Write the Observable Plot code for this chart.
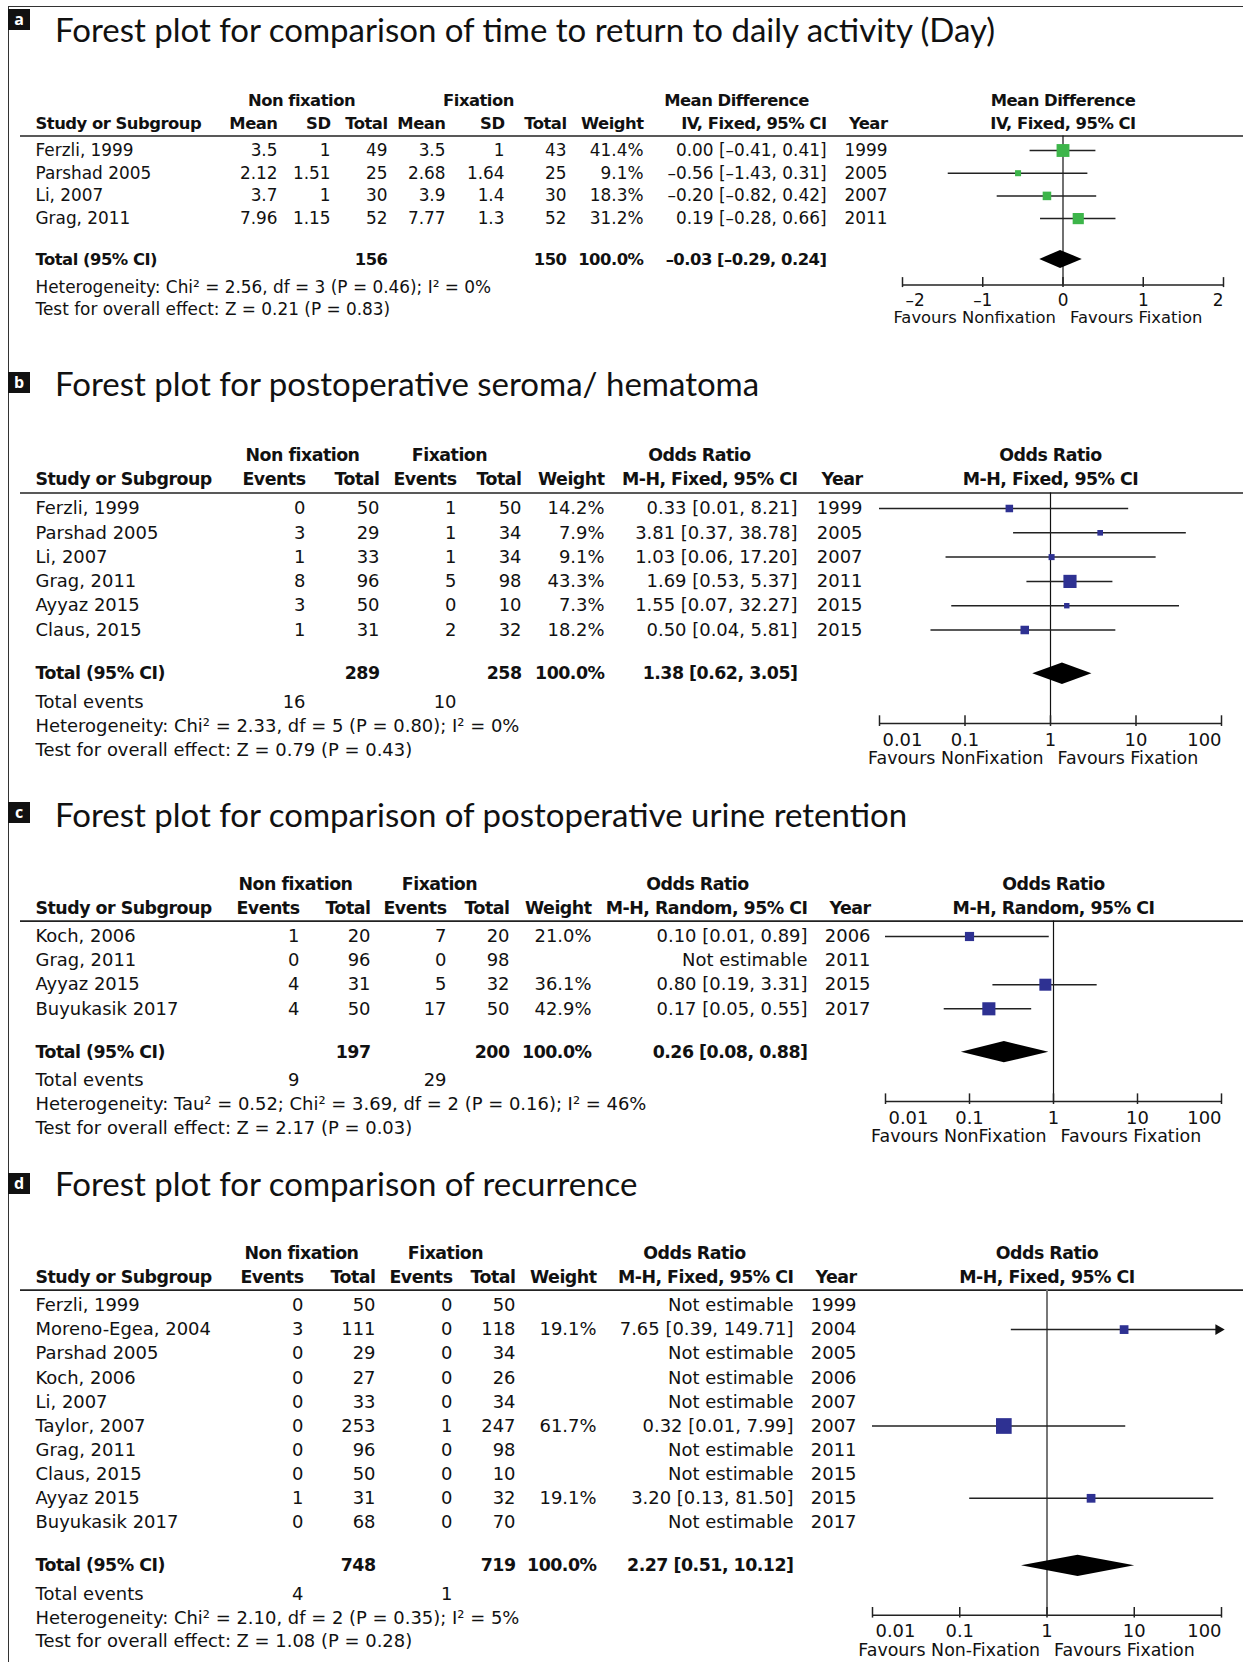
<!DOCTYPE html>
<html><head><meta charset="utf-8">
<script src="https://cdn.jsdelivr.net/npm/d3@7"></script>
<script src="https://cdn.jsdelivr.net/npm/@observablehq/plot@0.6"></script>
<style>
body{margin:0;background:#fff;}
#stage{position:relative;width:1243px;height:1662px;overflow:hidden;background:#fff;}
.abs{position:absolute;}
.title{font-family:Lato,sans-serif;font-size:33px;line-height:33px;color:#111;white-space:nowrap;}
.lbl{background:#111;color:#fff;font-family:"Open Sans",sans-serif;font-weight:bold;font-size:16px;line-height:20px;text-align:center;width:22px;height:21px;}
.frame{border-left:1.5px solid #333;border-top:1.5px solid #333;}
svg{overflow:visible;}
g[font-weight="bold"] text{letter-spacing:-0.5px;}
</style></head><body><div id="stage"></div>
<script>
// ---------------- DATA ----------------
// Panel a: time to return to daily activity (Mean Difference)
const aStudy = ["Ferzli, 1999", "Parshad 2005", "Li, 2007", "Grag, 2011"];
const aNonMean = [3.5, 2.12, 3.7, 7.96];
const aNonSD = [1, 1.51, 1, 1.15];
const aNonTotal = [49, 25, 30, 52];
const aFixMean = [3.5, 2.68, 3.9, 7.77];
const aFixSD = [1, 1.64, 1.4, 1.3];
const aFixTotal = [43, 25, 30, 52];
const aWeight = [41.4, 9.1, 18.3, 31.2];
const aEst = [0.00, -0.56, -0.20, 0.19];
const aLow = [-0.41, -1.43, -0.82, -0.28];
const aHigh = [0.41, 0.31, 0.42, 0.66];
const aYear = [1999, 2005, 2007, 2011];
const aTotals = [156, 150];
const aPooled = [-0.03, -0.29, 0.24];
const aHet = "Heterogeneity: Chi² = 2.56, df = 3 (P = 0.46); I² = 0%";
const aTest = "Test for overall effect: Z = 0.21 (P = 0.83)";
const aTicks = [-2, -1, 0, 1, 2];

// Panel b: seroma / hematoma (Odds Ratio)
const bStudy = ["Ferzli, 1999", "Parshad 2005", "Li, 2007", "Grag, 2011", "Ayyaz 2015", "Claus, 2015"];
const bNonEvents = [0, 3, 1, 8, 3, 1];
const bNonTotal = [50, 29, 33, 96, 50, 31];
const bFixEvents = [1, 1, 1, 5, 0, 2];
const bFixTotal = [50, 34, 34, 98, 10, 32];
const bWeight = [14.2, 7.9, 9.1, 43.3, 7.3, 18.2];
const bOR = [0.33, 3.81, 1.03, 1.69, 1.55, 0.50];
const bLow = [0.01, 0.37, 0.06, 0.53, 0.07, 0.04];
const bHigh = [8.21, 38.78, 17.20, 5.37, 32.27, 5.81];
const bYear = [1999, 2005, 2007, 2011, 2015, 2015];
const bTotals = [289, 258];
const bEvents = [16, 10];
const bPooled = [1.38, 0.62, 3.05];
const bHet = "Heterogeneity: Chi² = 2.33, df = 5 (P = 0.80); I² = 0%";
const bTest = "Test for overall effect: Z = 0.79 (P = 0.43)";

// Panel c: urine retention (Odds Ratio, random)
const cStudy = ["Koch, 2006", "Grag, 2011", "Ayyaz 2015", "Buyukasik 2017"];
const cNonEvents = [1, 0, 4, 4];
const cNonTotal = [20, 96, 31, 50];
const cFixEvents = [7, 0, 5, 17];
const cFixTotal = [20, 98, 32, 50];
const cWeight = [21.0, null, 36.1, 42.9];
const cOR = [0.10, null, 0.80, 0.17];
const cLow = [0.01, null, 0.19, 0.05];
const cHigh = [0.89, null, 3.31, 0.55];
const cYear = [2006, 2011, 2015, 2017];
const cTotals = [197, 200];
const cEvents = [9, 29];
const cPooled = [0.26, 0.08, 0.88];
const cHet = "Heterogeneity: Tau² = 0.52; Chi² = 3.69, df = 2 (P = 0.16); I² = 46%";
const cTest = "Test for overall effect: Z = 2.17 (P = 0.03)";

// Panel d: recurrence (Odds Ratio)
const dStudy = ["Ferzli, 1999", "Moreno-Egea, 2004", "Parshad 2005", "Koch, 2006", "Li, 2007", "Taylor, 2007", "Grag, 2011", "Claus, 2015", "Ayyaz 2015", "Buyukasik 2017"];
const dNonEvents = [0, 3, 0, 0, 0, 0, 0, 0, 1, 0];
const dNonTotal = [50, 111, 29, 27, 33, 253, 96, 50, 31, 68];
const dFixEvents = [0, 0, 0, 0, 0, 1, 0, 0, 0, 0];
const dFixTotal = [50, 118, 34, 26, 34, 247, 98, 10, 32, 70];
const dWeight = [null, 19.1, null, null, null, 61.7, null, null, 19.1, null];
const dOR = [null, 7.65, null, null, null, 0.32, null, null, 3.20, null];
const dLow = [null, 0.39, null, null, null, 0.01, null, null, 0.13, null];
const dHigh = [null, 149.71, null, null, null, 7.99, null, null, 81.50, null];
const dYear = [1999, 2004, 2005, 2006, 2007, 2007, 2011, 2015, 2015, 2017];
const dTotals = [748, 719];
const dEvents = [4, 1];
const dPooled = [2.27, 0.51, 10.12];
const dHet = "Heterogeneity: Chi² = 2.10, df = 2 (P = 0.35); I² = 5%";
const dTest = "Test for overall effect: Z = 1.08 (P = 0.28)";

const orTicks = [0.01, 0.1, 1, 10, 100];

// ---------------- HELPERS ----------------
const FONT = "DejaVu Sans";
const INK = "#111";
const dash = s => String(s).replace(/-/g, "–");
const fmtW = w => w == null ? "" : w.toFixed(1) + "%";
const fmtCI = (e, l, h) => e == null ? "Not estimable" : dash(`${e.toFixed(2)} [${l.toFixed(2)}, ${h.toFixed(2)}]`);

function textMarks(cells, fs, fsb) {
  const marks = [];
  for (const anchor of ["start", "middle", "end"]) for (const bold of [false, true]) {
    const sub = cells.filter(c => c.anchor === anchor && !!c.bold === bold);
    if (sub.length) marks.push(Plot.text(sub, {
      x: "x", y: "y", text: "text", textAnchor: anchor, lineAnchor: "middle",
      fontWeight: bold ? "bold" : "normal", fontSize: bold ? fsb : fs, fontFamily: FONT, fill: INK
    }));
  }
  return marks;
}

function layoutRows(n, hasEvents) {
  const total = n - 1 + 1.8;
  const totev = total + 1.17;
  const het = hasEvents ? totev + 1.0 : total + 1.24;
  const test = het + 0.98;
  const axis = het - 0.12;
  return {h1: -2.18, h2: -1.18, rule: -0.64, total, totev, het, test, axis, tick: axis + 0.68, fav: axis + 1.45};
}

const stage = document.getElementById("stage");
function addDiv(cls, css, html) {
  const d = document.createElement("div");
  d.className = "abs " + cls;
  Object.assign(d.style, css);
  if (html != null) d.textContent = html;
  stage.appendChild(d);
  return d;
}

// frame
addDiv("frame", {left: "8px", top: "6px", width: "1240px", height: "1660px"});

function buildPanel(P) {
  const n = P.studies.length;
  const L = layoutRows(n, !!P.events);
  const yDomain = [(P.top - P.row0) / P.s, (P.top + P.height - P.row0) / P.s];
  const yScale = {domain: yDomain, range: [0, P.height]};

  // title + letter box
  addDiv("lbl", {left: "8px", top: P.boxTop + "px"}, P.id);
  addDiv("title", {left: "55px", top: P.titleTop + "px"}, P.title);

  // ----- table (left) -----
  const cells = [];
  P.groupHeads.forEach(([t, x]) => cells.push({x, y: L.h1, text: t, anchor: "middle", bold: true}));
  cells.push({x: P.studyX, y: L.h2, text: "Study or Subgroup", anchor: "start", bold: true});
  P.colHeads.forEach((t, j) => cells.push({x: P.colX[j], y: L.h2, text: t, anchor: "end", bold: true}));
  P.studies.forEach((s, i) => {
    cells.push({x: P.studyX, y: i, text: s, anchor: "start"});
    P.columns.forEach((col, j) => {
      const v = col[i];
      cells.push({x: P.colX[j], y: i, text: v == null ? "" : String(v), anchor: "end"});
    });
  });
  cells.push({x: P.studyX, y: L.total, text: "Total (95% CI)", anchor: "start", bold: true});
  P.totalRow.forEach(([j, t]) => cells.push({x: P.colX[j], y: L.total, text: t, anchor: "end", bold: true}));
  if (P.events) {
    cells.push({x: P.studyX, y: L.totev, text: "Total events", anchor: "start"});
    P.events.forEach(([j, t]) => cells.push({x: P.colX[j], y: L.totev, text: String(t), anchor: "end"}));
  }
  cells.push({x: P.studyX, y: L.het, text: P.het, anchor: "start"});
  cells.push({x: P.studyX, y: L.test, text: P.test, anchor: "start"});

  const left = Plot.plot({
    width: 1243, height: P.height, margin: 0,
    x: {type: "identity"}, y: yScale, axis: null,
    style: {background: "transparent", overflow: "visible"},
    marks: [
      Plot.ruleY([L.rule], {x1: 20, x2: 1243, stroke: "#222", strokeWidth: 1.6}),
      ...textMarks(cells, P.fs, P.fsb)
    ]
  });
  const lw = document.createElement("div");
  lw.className = "abs"; lw.style.left = "0px"; lw.style.top = P.top + "px";
  lw.appendChild(left); stage.appendChild(lw);

  // ----- forest (right) -----
  const F = P.forest;
  const RX = 800;
  const rows = P.studies.map((s, i) => ({i, est: F.est[i], lo: F.lo[i], hi: F.hi[i], w: F.w[i]}))
    .filter(d => d.est != null);
  const dmax = F.domain[1];
  const clipped = rows.filter(d => d.hi > dmax);
  const [pe, pl, ph] = F.pooled;
  const diamond = [
    {x: pl, y1: L.total, y2: L.total},
    {x: pe, y1: L.total - F.dh, y2: L.total + F.dh},
    {x: ph, y1: L.total, y2: L.total}
  ];
  const nT = F.ticks.length;
  const tickText = (sel, anchor, dx) => Plot.text(F.ticks.filter((t, k) => sel(k)), {
    x: d => d, y: () => L.tick, text: d => dash(d), textAnchor: anchor, dx,
    lineAnchor: "middle", fontSize: P.fs, fontFamily: FONT, fill: INK
  });
  const favText = (t, anchor, dx) => Plot.text([t], {
    x: () => F.nullValue, y: () => L.fav, text: d => d, textAnchor: anchor, dx,
    lineAnchor: "middle", fontSize: P.fs * 0.97, fontFamily: FONT, fill: INK
  });
  const right = Plot.plot({
    width: 1243 - RX, height: P.height, margin: 0,
    x: {type: F.type, domain: F.domain, range: [F.range[0] - RX, F.range[1] - RX]},
    y: yScale,
    r: {type: "sqrt", domain: [0, 100], range: [0, 11.28]},
    axis: null,
    style: {background: "transparent", overflow: "visible"},
    marks: [
      Plot.ruleX([F.nullValue], {y1: L.rule, y2: L.axis, stroke: F.nullColor, strokeWidth: F.nullWidth}),
      Plot.ruleY(rows, {y: "i", x1: "lo", x2: d => Math.min(d.hi, dmax), stroke: "#222", strokeWidth: 1.5}),
      Plot.dot(rows, {x: "est", y: "i", r: "w", symbol: "square", fill: F.color}),
      Plot.dot(clipped, {x: () => dmax, y: "i", symbol: "triangle", rotate: 90, r: 4, fill: "#111", dx: -3}),
      Plot.areaY(diamond, {x: "x", y1: "y1", y2: "y2", fill: "#000"}),
      Plot.ruleY([L.axis], {x1: F.domain[0], x2: F.domain[1], stroke: "#222", strokeWidth: 1.5}),
      Plot.ruleX(F.ticks, {x: d => d, y1: L.axis - 0.32, y2: L.axis + 0.12, stroke: "#222", strokeWidth: 1.5}),
      ...textMarks([
        {x: F.nullValue, y: L.h1, text: F.heads[0], anchor: "middle", bold: true},
        {x: F.nullValue, y: L.h2, text: F.heads[1], anchor: "middle", bold: true}
      ], P.fs, P.fsb),
      tickText(k => k === 0, "start", 3),
      tickText(k => k > 0 && k < nT - 1, "middle", 0),
      tickText(k => k === nT - 1, "end", 0),
      favText(F.fav[0], "end", -7),
      favText(F.fav[1], "start", 7)
    ]
  });
  const rw = document.createElement("div");
  rw.className = "abs"; rw.style.left = RX + "px"; rw.style.top = P.top + "px";
  rw.appendChild(right); stage.appendChild(rw);
}

// ---------------- PANELS ----------------
buildPanel({
  id: "a", title: "Forest plot for comparison of time to return to daily activity (Day)",
  boxTop: 9, titleTop: 13, top: 80, height: 262, row0: 150, s: 22.7, fs: 16.9, fsb: 16.4, studyX: 35,
  groupHeads: [["Non fixation", 301], ["Fixation", 478], ["Mean Difference", 736]],
  colHeads: ["Mean", "SD", "Total", "Mean", "SD", "Total", "Weight", "IV, Fixed, 95% CI", "Year"],
  colX: [277, 330, 387, 445, 504, 566, 643, 826, 887],
  studies: aStudy,
  columns: [aNonMean, aNonSD, aNonTotal, aFixMean, aFixSD, aFixTotal, aWeight.map(fmtW),
            aEst.map((e, i) => fmtCI(e, aLow[i], aHigh[i])), aYear],
  totalRow: [[2, String(aTotals[0])], [5, String(aTotals[1])], [6, "100.0%"], [7, fmtCI(...aPooled)]],
  events: null, het: aHet, test: aTest,
  forest: {type: "linear", domain: [-2, 2], range: [902, 1223], nullValue: 0, ticks: aTicks,
    est: aEst, lo: aLow, hi: aHigh, w: aWeight, color: "#3db54a", pooled: aPooled, dh: 0.4,
    heads: ["Mean Difference", "IV, Fixed, 95% CI"], fav: ["Favours Nonfixation", "Favours Fixation"],
    nullColor: "#111", nullWidth: 1.2}
});

const orHeads = ["Events", "Total", "Events", "Total", "Weight"];

buildPanel({
  id: "b", title: "Forest plot for postoperative seroma/ hematoma",
  boxTop: 372, titleTop: 367, top: 430, height: 350, row0: 508, s: 24.3, fs: 17.95, fsb: 17.4, studyX: 35,
  groupHeads: [["Non fixation", 302], ["Fixation", 449], ["Odds Ratio", 699]],
  colHeads: [...orHeads, "M-H, Fixed, 95% CI", "Year"],
  colX: [305, 379, 456, 521, 604, 797, 862],
  studies: bStudy,
  columns: [bNonEvents, bNonTotal, bFixEvents, bFixTotal, bWeight.map(fmtW),
            bOR.map((e, i) => fmtCI(e, bLow[i], bHigh[i])), bYear],
  totalRow: [[1, String(bTotals[0])], [3, String(bTotals[1])], [4, "100.0%"], [5, fmtCI(...bPooled)]],
  events: [[0, bEvents[0]], [2, bEvents[1]]], het: bHet, test: bTest,
  forest: {type: "log", domain: [0.01, 100], range: [879, 1221], nullValue: 1, ticks: orTicks,
    est: bOR, lo: bLow, hi: bHigh, w: bWeight, color: "#2e3192", pooled: bPooled, dh: 0.44,
    heads: ["Odds Ratio", "M-H, Fixed, 95% CI"], fav: ["Favours NonFixation", "Favours Fixation"],
    nullColor: "#111", nullWidth: 1.2}
});

buildPanel({
  id: "c", title: "Forest plot for comparison of postoperative urine retention",
  boxTop: 802, titleTop: 798, top: 860, height: 300, row0: 936, s: 24.1, fs: 17.95, fsb: 17.4, studyX: 35,
  groupHeads: [["Non fixation", 295], ["Fixation", 439], ["Odds Ratio", 697]],
  colHeads: [...orHeads, "M-H, Random, 95% CI", "Year"],
  colX: [299, 370, 446, 509, 591, 807, 870],
  studies: cStudy,
  columns: [cNonEvents, cNonTotal, cFixEvents, cFixTotal, cWeight.map(fmtW),
            cOR.map((e, i) => fmtCI(e, cLow[i], cHigh[i])), cYear],
  totalRow: [[1, String(cTotals[0])], [3, String(cTotals[1])], [4, "100.0%"], [5, fmtCI(...cPooled)]],
  events: [[0, cEvents[0]], [2, cEvents[1]]], het: cHet, test: cTest,
  forest: {type: "log", domain: [0.01, 100], range: [885, 1221], nullValue: 1, ticks: orTicks,
    est: cOR, lo: cLow, hi: cHigh, w: cWeight, color: "#2e3192", pooled: cPooled, dh: 0.44,
    heads: ["Odds Ratio", "M-H, Random, 95% CI"], fav: ["Favours NonFixation", "Favours Fixation"],
    nullColor: "#111", nullWidth: 1.2}
});

buildPanel({
  id: "d", title: "Forest plot for comparison of recurrence",
  boxTop: 1173, titleTop: 1167, top: 1225, height: 437, row0: 1305, s: 24.1, fs: 17.95, fsb: 17.4, studyX: 35,
  groupHeads: [["Non fixation", 301], ["Fixation", 445], ["Odds Ratio", 694]],
  colHeads: [...orHeads, "M-H, Fixed, 95% CI", "Year"],
  colX: [303, 375, 452, 515, 596, 793, 856],
  studies: dStudy,
  columns: [dNonEvents, dNonTotal, dFixEvents, dFixTotal, dWeight.map(fmtW),
            dOR.map((e, i) => fmtCI(e, dLow[i], dHigh[i])), dYear],
  totalRow: [[1, String(dTotals[0])], [3, String(dTotals[1])], [4, "100.0%"], [5, fmtCI(...dPooled)]],
  events: [[0, dEvents[0]], [2, dEvents[1]]], het: dHet, test: dTest,
  forest: {type: "log", domain: [0.01, 100], range: [872, 1221], nullValue: 1, ticks: orTicks,
    est: dOR, lo: dLow, hi: dHigh, w: dWeight, color: "#2e3192", pooled: dPooled, dh: 0.44,
    heads: ["Odds Ratio", "M-H, Fixed, 95% CI"], fav: ["Favours Non-Fixation", "Favours Fixation"],
    nullColor: "#777", nullWidth: 2}
});
</script></body></html>
